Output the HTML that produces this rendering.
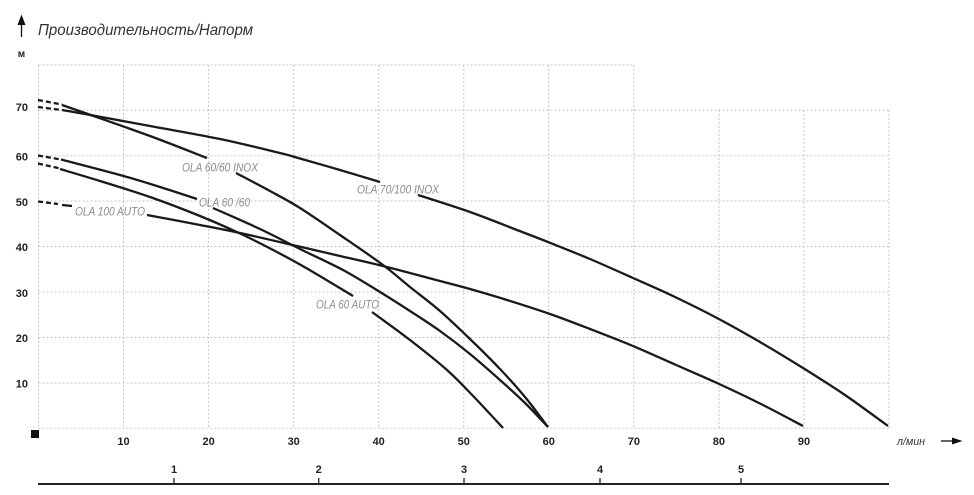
<!DOCTYPE html>
<html>
<head>
<meta charset="utf-8">
<style>
html,body{margin:0;padding:0;background:#fff;}
svg{display:block;}
</style>
</head>
<body>
<svg id="chart" width="974" height="495" viewBox="0 0 974 495" xmlns="http://www.w3.org/2000/svg">
<rect width="974" height="495" fill="#fff"/>
<!-- grid -->
<g stroke="#c6c6c6" stroke-width="1" stroke-dasharray="2,2" fill="none">
  <line x1="38.5" y1="65" x2="634" y2="65"/>
  <line x1="38.5" y1="110.3" x2="889" y2="110.3"/>
  <line x1="38.5" y1="155.8" x2="889" y2="155.8"/>
  <line x1="38.5" y1="201" x2="889" y2="201"/>
  <line x1="38.5" y1="246.5" x2="889" y2="246.5"/>
  <line x1="38.5" y1="292" x2="889" y2="292"/>
  <line x1="38.5" y1="337.5" x2="889" y2="337.5"/>
  <line x1="38.5" y1="383" x2="889" y2="383"/>
  <line x1="38.5" y1="428.3" x2="889" y2="428.3"/>
  <line x1="38.5" y1="65" x2="38.5" y2="428"/>
  <line x1="123.5" y1="65" x2="123.5" y2="428"/>
  <line x1="208.6" y1="65" x2="208.6" y2="428"/>
  <line x1="293.7" y1="65" x2="293.7" y2="428"/>
  <line x1="378.7" y1="65" x2="378.7" y2="428"/>
  <line x1="463.8" y1="65" x2="463.8" y2="428"/>
  <line x1="548.8" y1="65" x2="548.8" y2="428"/>
  <line x1="633.9" y1="65" x2="633.9" y2="428"/>
  <line x1="718.9" y1="110" x2="718.9" y2="428"/>
  <line x1="804" y1="110" x2="804" y2="428"/>
  <line x1="889" y1="110" x2="889" y2="428"/>
</g>

<!-- up arrow -->
<line x1="21.5" y1="37" x2="21.5" y2="22" stroke="#111" stroke-width="1.3"/>
<polygon points="17.5,25 21.5,14.5 25.5,25" fill="#111"/>
<text x="38" y="35" font-family="Liberation Sans, DejaVu Sans, sans-serif" font-style="italic" font-size="16" fill="#333" textLength="215" lengthAdjust="spacingAndGlyphs">Производительность/Напорм</text>
<text x="21.5" y="57" text-anchor="middle" font-family="Liberation Sans, DejaVu Sans, sans-serif" font-weight="bold" font-size="10" fill="#222">м</text>

<!-- Y labels -->
<g font-family="Liberation Sans, sans-serif" font-weight="bold" font-size="11" fill="#222" text-anchor="end">
  <text x="28" y="111">70</text>
  <text x="28" y="160.5">60</text>
  <text x="28" y="206">50</text>
  <text x="28" y="251">40</text>
  <text x="28" y="297">30</text>
  <text x="28" y="342">20</text>
  <text x="28" y="387.5">10</text>
</g>
<rect x="31" y="430" width="8" height="8" fill="#111"/>

<!-- X labels -->
<g font-family="Liberation Sans, sans-serif" font-weight="bold" font-size="11" fill="#222" text-anchor="middle">
  <text x="123.5" y="445">10</text>
  <text x="208.6" y="445">20</text>
  <text x="293.7" y="445">30</text>
  <text x="378.7" y="445">40</text>
  <text x="463.8" y="445">50</text>
  <text x="548.8" y="445">60</text>
  <text x="633.9" y="445">70</text>
  <text x="718.9" y="445">80</text>
  <text x="804" y="445">90</text>
</g>
<text x="897" y="445" font-family="Liberation Sans, DejaVu Sans, sans-serif" font-style="italic" font-size="11" fill="#333" textLength="28" lengthAdjust="spacingAndGlyphs">л/мин</text>
<line x1="941" y1="441" x2="955" y2="441" stroke="#111" stroke-width="1.3"/>
<polygon points="952,437.5 962.5,441 952,444.5" fill="#111"/>

<!-- bottom axis -->
<line x1="38" y1="484" x2="889" y2="484" stroke="#222" stroke-width="2"/>
<g stroke="#222" stroke-width="1.3">
  <line x1="174" y1="478" x2="174" y2="484"/>
  <line x1="318.7" y1="478" x2="318.7" y2="484"/>
  <line x1="464" y1="478" x2="464" y2="484"/>
  <line x1="600" y1="478" x2="600" y2="484"/>
  <line x1="741" y1="478" x2="741" y2="484"/>
</g>
<g font-family="Liberation Sans, sans-serif" font-weight="bold" font-size="11" fill="#222" text-anchor="middle">
  <text x="174" y="473">1</text>
  <text x="318.7" y="473">2</text>
  <text x="464" y="473">3</text>
  <text x="600" y="473">4</text>
  <text x="741" y="473">5</text>
</g>

<!-- curves -->
<g fill="none" stroke="#1a1a1a" stroke-width="2.3" stroke-linejoin="round" stroke-linecap="butt">
  <!-- dashed starts -->
  <g stroke-dasharray="5,3">
    <line x1="38" y1="107" x2="62" y2="110"/>
    <line x1="38" y1="100" x2="62" y2="104.5"/>
    <line x1="38" y1="155.5" x2="61" y2="159.5"/>
    <line x1="38" y1="163.5" x2="60" y2="168.5"/>
    <line x1="38" y1="201.5" x2="58" y2="204"/>
  </g>
  <line x1="62" y1="205" x2="72" y2="206"/>
  <g class="smooth">
  <!-- OLA 70/100 INOX -->
  <polyline points="62,110 85,114 150,126 220,139 280,153 300,158.5 340,170 380,182"/>
  <polyline points="418,195 470,212 517,230 548,242 590,259 633,278 675,297 717,318 760,342 803,368 845,395 888,426"/>
  <!-- OLA 60/60 INOX -->
  <polyline points="62,105 85,113 150,136 207,158"/>
  <polyline points="236,173 270,191 300,208 340,235 383,265 410,287 440,311 470,339 500,369 525,397 548,427"/>
  <!-- OLA 60/60 -->
  <polyline points="61,159.5 120,175 160,187 197,199"/>
  <polyline points="213,208 260,229 300,249 343,270 380,292 410,311 440,331 470,354 500,380 525,403 548,427"/>
  <!-- OLA 60 AUTO -->
  <polyline points="60,169 100,181 150,197 200,216 240,233.5 275,251 307,268.5 353,296"/>
  <polyline points="372,312 410,340 447,370 475,398 503,428"/>
  <!-- OLA 100 AUTO -->
  <polyline points="147,215 200,225 240,233 297,246 340,256 383,266 440,281 470,289 507,300 550,314 590,329 633,346 675,364.5 717,383 760,403.5 803,426"/>
  </g>
</g>

<!-- curve labels -->
<g font-family="Liberation Sans, sans-serif" font-style="italic" font-size="12" fill="#8c8c8c">
  <text x="182" y="171.5" textLength="76" lengthAdjust="spacingAndGlyphs">OLA 60/60 INOX</text>
  <text x="357" y="193.5" textLength="82" lengthAdjust="spacingAndGlyphs">OLA 70/100 INOX</text>
  <text x="199" y="206.5" textLength="51" lengthAdjust="spacingAndGlyphs">OLA 60 /60</text>
  <text x="75" y="215.5" textLength="70" lengthAdjust="spacingAndGlyphs">OLA 100 AUTO</text>
  <text x="316" y="308.5" textLength="63" lengthAdjust="spacingAndGlyphs">OLA 60 AUTO</text>
</g>
</svg>
<script>
(function(){
  try{
    var ns="http://www.w3.org/2000/svg";
    var pls=document.querySelectorAll("g.smooth polyline");
    for(var i=0;i<pls.length;i++){
      var pl=pls[i];
      var raw=pl.getAttribute("points").trim().split(/\s+/);
      var p=raw.map(function(s){var a=s.split(",");return [parseFloat(a[0]),parseFloat(a[1])];});
      if(p.length<3) continue;
      var d="M"+p[0][0]+","+p[0][1];
      for(var k=0;k<p.length-1;k++){
        var p0=p[k>0?k-1:k],p1=p[k],p2=p[k+1],p3=p[k+2<p.length?k+2:k+1];
        var c1x=p1[0]+(p2[0]-p0[0])/6,c1y=p1[1]+(p2[1]-p0[1])/6;
        var c2x=p2[0]-(p3[0]-p1[0])/6,c2y=p2[1]-(p3[1]-p1[1])/6;
        d+=" C"+c1x.toFixed(2)+","+c1y.toFixed(2)+" "+c2x.toFixed(2)+","+c2y.toFixed(2)+" "+p2[0]+","+p2[1];
      }
      var path=document.createElementNS(ns,"path");
      path.setAttribute("d",d);
      pl.parentNode.replaceChild(path,pl);
    }
  }catch(e){}
})();
</script>
</body>
</html>
